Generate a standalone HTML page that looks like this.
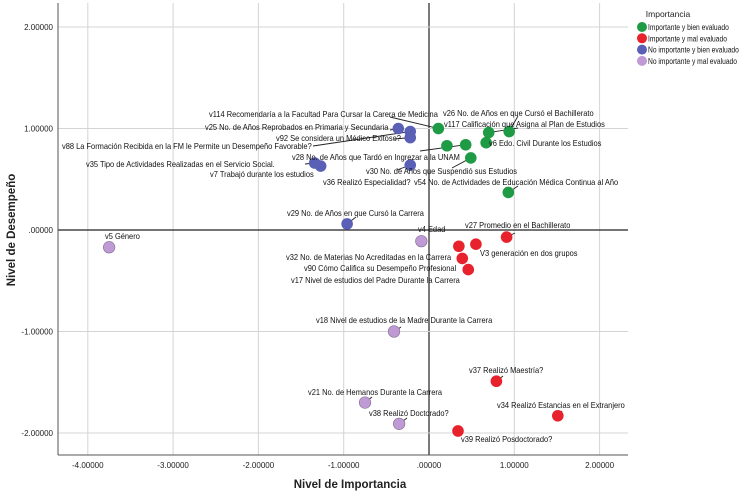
<!DOCTYPE html>
<html><head><meta charset="utf-8"><style>
body{margin:0;background:#fff;}
svg text{font-family:"Liberation Sans",Arial,sans-serif;}
</style></head><body>
<svg id="chart" width="749" height="494" viewBox="0 0 749 494">
<g id="grid"></g>
<g id="axes"></g>
<g id="leaders"></g>
<g id="points"></g>
<g id="labels"></g>
<text x="350" y="488" text-anchor="middle" font-size="11.5" font-weight="bold" fill="#222">Nivel de Importancia</text>
<text transform="translate(15,230) rotate(-90)" text-anchor="middle" font-size="11.5" font-weight="bold" fill="#222">Nivel de Desempeño</text>
<g>
<text x="668" y="17" text-anchor="middle" font-size="8.5" fill="#222">Importancia</text>
<g id="legend"></g>
</g>
</svg>
<script>
const xTicks=[-4,-3,-2,-1,0,1,2];
const yTicks=[2,1,0,-1,-2];
const xTickLabels=["-4.00000","-3.00000","-2.00000","-1.00000",".00000","1.00000","2.00000"];
const yTickLabels=["2.00000","1.00000",".00000","-1.00000","-2.00000"];
const groups=["Importante y bien evaluado","Importante y mal evaluado","No importante y bien evaluado","No importante y mal evaluado"];
const groupColors=["#1f9a45","#e8222c","#5a60b6","#bf9ad5"];
const pointNames=["v117","v28a","v28b","v30","v117b","v26","v6","v54",
"v25","v92a","v92b","v35","v7","v36","v29",
"v27","v32","v3","v90","v17","v37","v34","v39",
"v5","v4","v18","v21","v38"];
const pointX=[0.11,0.21,0.43,0.49,0.70,0.94,0.67,0.93,
-0.36,-0.22,-0.22,-1.34,-1.27,-0.22,-0.96,
0.91,0.35,0.55,0.39,0.46,0.79,1.51,0.34,
-3.75,-0.09,-0.41,-0.75,-0.35];
const pointY=[1.00,0.83,0.84,0.71,0.96,0.97,0.86,0.37,
1.00,0.97,0.91,0.66,0.63,0.64,0.06,
-0.07,-0.16,-0.14,-0.28,-0.39,-1.49,-1.83,-1.98,
-0.17,-0.11,-1.00,-1.70,-1.91];
const pointGroup=[0,0,0,0,0,0,0,0,2,2,2,2,2,2,2,1,1,1,1,1,1,1,1,3,3,3,3,3];
const labelTexts=[
["v114 Recomendaría a la Facultad Para Cursar la Carera de Medicina",209,117,390,117,0],
["v26 No. de Años en que Cursó el Bachillerato",443,116,518,116,5],
["v117 Calificación que Asigna al Plan de Estudios",444,127,518,128,4],
["v25 No. de Años Reprobados en Primaria y Secundaria",205,130,390,130,8],
["v92 Se considera un Médico Exitoso?",276,141,394,139,10],
["v88 La Formación Recibida en la FM le Permite un Desempeño Favorable?",62,149,313,146,9],
["v6 Edo. Civil Durante los Estudios",489,146,null,null,null],
["v28 No. de Años que Tardó en Ingrezar a la UNAM",292,160,420,151,2],
["v35 Tipo de Actividades Realizadas en el Servicio Social.",86,167,305,164,11],
["v7 Trabajó durante los estudios",210,177,null,null,null],
["v30 No. de Años que Suspendió sus Estudios",366,174,452,168,3],
["v36 Realizó  Especialidad?",323,185,397,170,13],
["v54 No. de Actividades de Educación Médica Continua al Año",414,185,518,186,7],
["v29 No. de Años en que Cursó la Carrera",287,216,356,217,14],
["v4 Edad",418,232,null,null,null],
["v27 Promedio en el Bachillerato",465,228,515,233,15],
["V3 generación en dos grupos",480,256,null,null,null],
["v32 No. de Materias No Acreditadas en la Carrera",286,260,null,null,null],
["v90 Cómo Califica su Desempeño Profesional",304,271,null,null,null],
["v17 Nivel de estudios del Padre Durante la Carrera",291,283,null,null,null],
["v5 Género",105,239,null,null,null],
["v18 Nivel de estudios de la Madre Durante la Carrera",316,323,401,327,25],
["v37 Realizó  Maestría?",469,373,503,376,20],
["v21 No. de Hemanos Durante la Carrera",308,395,372,397,26],
["v38 Realizó  Doctorado?",369,416,407,418,27],
["v34 Realizó Estancias en el Extranjero",497,408,562,411,21],
["v39 Realizó  Posdoctorado?",461,442,null,null,null]
];
const NS="http://www.w3.org/2000/svg";
const X0=429,XU=85.3,Y0=230,YU=101.5,L=58,R=628,T=3,B=455;
const sx=v=>X0+v*XU, sy=v=>Y0-v*YU;
function mk(tag,attrs,parent){const e=document.createElementNS(NS,tag);for(const k in attrs)e.setAttribute(k,attrs[k]);parent.appendChild(e);return e;}
const grid=document.getElementById('grid'),axes=document.getElementById('axes');
xTicks.forEach((t,i)=>{
 const l=mk('line',{x1:sx(t),x2:sx(t),y1:T,y2:B,stroke:t===0?'#222':'#d4d4d4','stroke-width':t===0?1.2:1},grid);
 
 
 const tx=mk('text',{x:sx(t),y:468,'text-anchor':'middle','font-size':8,fill:'#222'},axes);
 tx.textContent=xTickLabels[i];
 
 
});
yTicks.forEach((t,i)=>{
 const l=mk('line',{x1:L,x2:R,y1:sy(t),y2:sy(t),stroke:t===0?'#222':'#d4d4d4','stroke-width':t===0?1.2:1},grid);
 
 
 const tx=mk('text',{x:53,y:sy(t)+3,'text-anchor':'end','font-size':8,fill:'#222'},axes);
 tx.textContent=yTickLabels[i];
 
 
});
const ax1=mk('line',{x1:L,x2:L,y1:T,y2:B,stroke:'#555'},axes);


const ax2=mk('line',{x1:L,x2:R,y1:B,y2:B,stroke:'#555'},axes);


const pts=document.getElementById('points');
pointX.forEach((v,i)=>{
 const c=mk('circle',{cx:sx(v),cy:sy(pointY[i]),r:5.8,fill:groupColors[pointGroup[i]],stroke:pointGroup[i]===3?'#7d6a8c':'none','stroke-width':0.6},pts);
 
 
});
const lead=document.getElementById('leaders'),labs=document.getElementById('labels');
labelTexts.forEach(a=>{
 const t=mk('text',{x:0,y:0,transform:'translate('+a[1]+','+a[2]+') scale(0.89,1)','font-size':8.4,fill:'#111'},labs);
 t.textContent=a[0];
 
 
 if(a[3]!==null){
  const p=a[5];
  const l=mk('line',{x1:a[3],y1:a[4],x2:sx(pointX[p]),y2:sy(pointY[p]),stroke:'#222','stroke-width':0.9},lead);
  
  
 }
});
const lg=document.getElementById('legend');
groups.forEach((g,i)=>{
 const y=27+i*11.3;
 const c=mk('circle',{cx:642,cy:y,r:5,fill:groupColors[i]},lg);
 
 
 const t=mk('text',{x:0,y:0,transform:'translate(648,'+(y+3)+') scale(0.86,1)','font-size':7.8,fill:'#111'},lg);
 t.textContent=g;
 
 
});
</script>
</body></html>
